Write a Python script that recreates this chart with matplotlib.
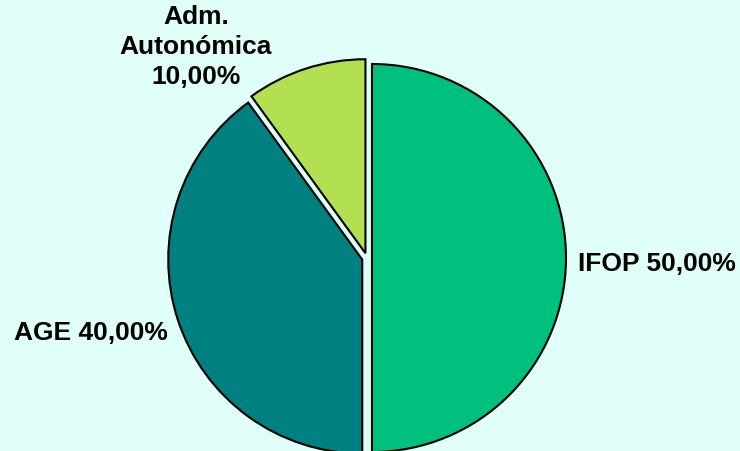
import matplotlib.pyplot as plt

labels = ["IFOP", "AGE", "Adm.\nAutonómica"]
shares = [50.0, 40.0, 10.0]
colors = ["#00C080", "#008080", "#B3E050"]

bg = "#E0FFF8"

fig = plt.figure(figsize=(7.4, 4.51), dpi=100, facecolor=bg)
ax = fig.add_axes([0, 0, 1, 1])
ax.set_facecolor(bg)

# explode is in data units here (pixels)
ax.pie(shares, colors=colors, explode=[5, 5, 5], startangle=90, counterclock=False,
       center=(367, 193), radius=194, frame=True,
       wedgeprops=dict(edgecolor="black", linewidth=1.5))
ax.set_xlim(0, 740)
ax.set_ylim(0, 451)
ax.set_aspect("equal")
ax.axis("off")

def fmt(v):
    return f"{v:.2f}".replace(".", ",") + "%"

font = dict(family="Liberation Sans", weight="bold", fontsize=19, color="black")
ax.text(578, 187, f"{labels[0]} {fmt(shares[0])}", ha="left", va="center", **font)
ax.text(14, 118, f"{labels[1]} {fmt(shares[1])}", ha="left", va="center", **font)
ax.text(196, 404, f"{labels[2]}\n{fmt(shares[2])}", ha="center", va="center",
        multialignment="center", linespacing=1.3, **font)

fig.savefig("out.png", dpi=100, facecolor=bg)
